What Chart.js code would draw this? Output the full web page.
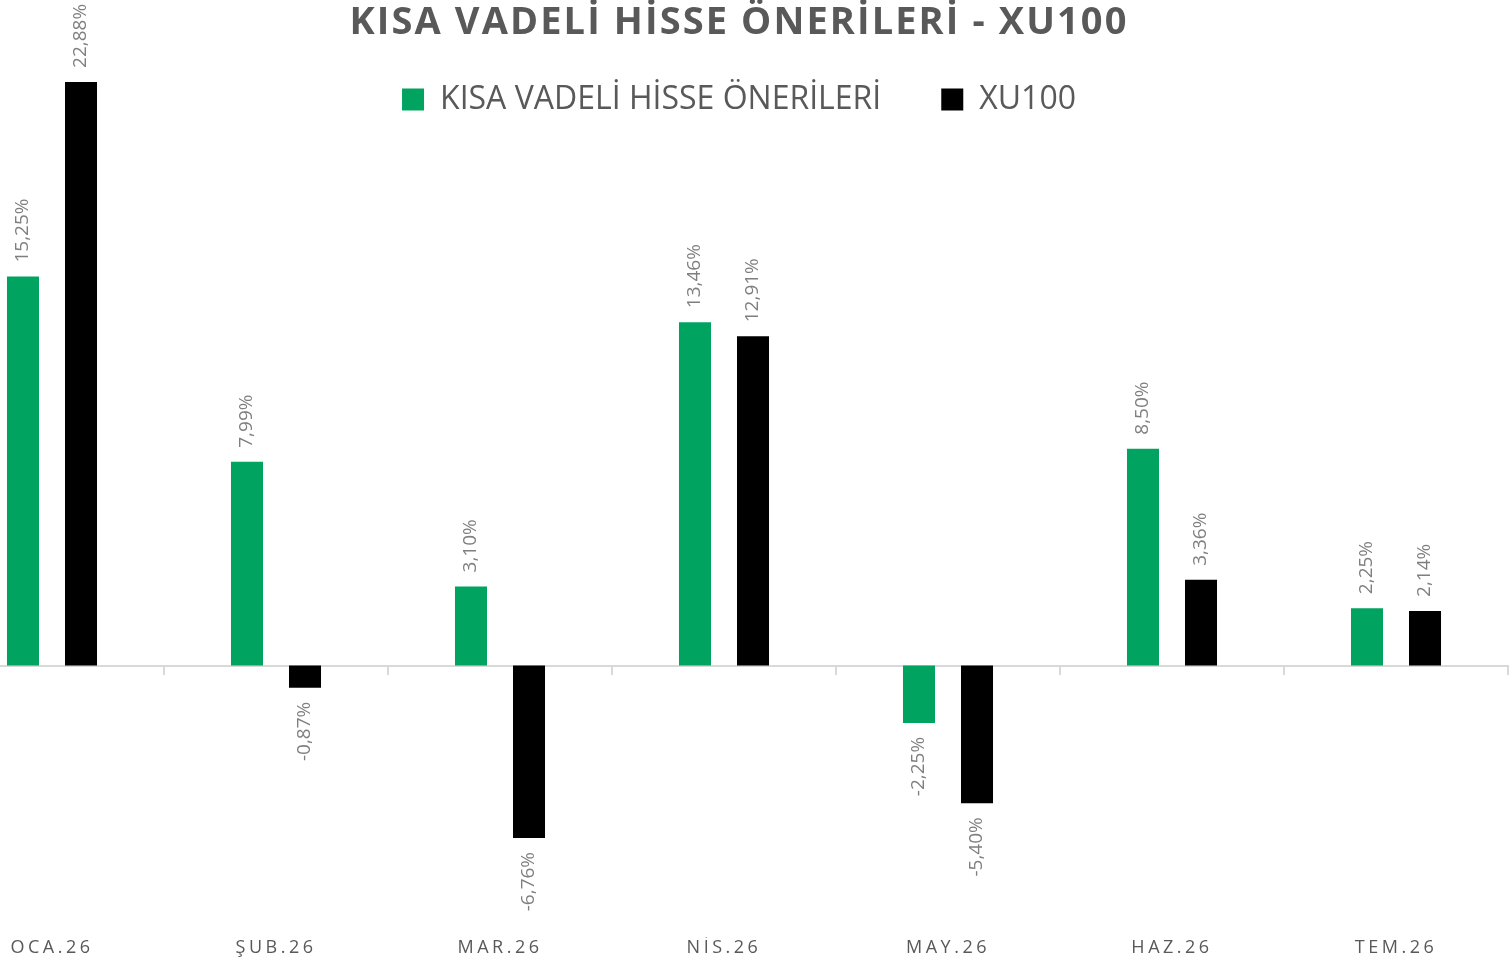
<!DOCTYPE html>
<html><head><meta charset="utf-8">
<script src="https://cdn.jsdelivr.net/npm/chart.js@4.4.1/dist/chart.umd.min.js"></script>
<style>
html,body{margin:0;padding:0;background:#fff;overflow:hidden;width:1511px;height:963px;}
#wrap{position:absolute;left:-60px;top:0;width:1598px;height:963px;}
</style></head><body>
<div id="wrap"><canvas id="c" width="1598" height="963"></canvas></div>
<script>
const categories = ['OCA.26','ŞUB.26','MAR.26','NİS.26','MAY.26','HAZ.26','TEM.26'];
const seriesNames = ['KISA VADELİ HİSSE ÖNERİLERİ','XU100'];
const kisaVadeli = [15.25, 7.99, 3.10, 13.46, -2.25, 8.50, 2.25];
const xu100 = [22.88, -0.87, -6.76, 12.91, -5.40, 3.36, 2.14];
const chartTitle = 'KISA VADELİ HİSSE ÖNERİLERİ - XU100';

const spacingPlugin = {
  id: 'spacing',
  beforeDraw(chart) {
    const tb = chart.titleBlock;
    if (tb && !tb._ls) {
      const orig = tb.draw;
      tb.draw = function(...a){ const ctx=this.ctx; ctx.save(); ctx.letterSpacing='2.1px'; orig.apply(this,a); ctx.restore(); };
      tb._ls = true;
    }
    const xs = chart.scales.x;
    if (xs && !xs._ls) {
      const orig = xs.drawLabels;
      xs.drawLabels = function(...a){ const ctx=this.ctx; ctx.save(); ctx.letterSpacing='3.5px'; orig.apply(this,a); ctx.restore(); };
      xs._ls = true;
    }
  }
};

const valueLabels = {
  id: 'valueLabels',
  afterDatasetsDraw(chart) {
    const ctx = chart.ctx;
    ctx.save();
    ctx.font = '19px "Open Sans"';
    ctx.fillStyle = '#7f7f7f';
    ctx.textBaseline = 'middle';
    chart.data.datasets.forEach((ds, di) => {
      const meta = chart.getDatasetMeta(di);
      meta.data.forEach((bar, i) => {
        const v = ds.data[i];
        const top = Math.min(bar.y, bar.base), bottom = Math.max(bar.y, bar.base);
        const txt = v.toFixed(2).replace('.', ',') + '%';
        ctx.save();
        if (v >= 0) { ctx.translate(bar.x, top - 14); ctx.textAlign = 'left'; }
        else { ctx.translate(bar.x, bottom + 14); ctx.textAlign = 'right'; }
        ctx.rotate(-Math.PI / 2);
        ctx.fillText(txt, 0, 0);
        ctx.restore();
      });
    });
    ctx.restore();
  }
};

new Chart(document.getElementById('c'), {
  type: 'bar',
  data: {
    labels: categories,
    datasets: [
      {label: seriesNames[0], data: kisaVadeli, backgroundColor: '#00A360', categoryPercentage: 0.518, barPercentage: 0.552, clip: false},
      {label: seriesNames[1], data: xu100, backgroundColor: '#000000', categoryPercentage: 0.518, barPercentage: 0.552, clip: false}
    ]
  },
  options: {
    responsive: false, animation: false, devicePixelRatio: 1,
    layout: {padding: {left: 0, right: 0, top: 0, bottom: 4}},
    plugins: {
      title: {display: true, text: chartTitle, color: '#595959', font: {family: '"Open Sans"', size: 38, weight: 'bold'}, padding: {top: 0, bottom: -22}},
      legend: {display: true, labels: {color: '#595959', font: {family: '"Open Sans"', size: 32}, boxWidth: 22, boxHeight: 22, padding: 60}},
      tooltip: {enabled: false}
    },
    scales: {
      x: {position: 'bottom', grid: {display: false, drawTicks: false}, border: {display: false},
          ticks: {color: '#595959', font: {family: '"Open Sans"', size: 18}, padding: 0, maxRotation: 0, autoSkip: false}},
      x0: {type: 'category', position: {y: 0}, offset: true,
           grid: {offset: true, drawOnChartArea: false, drawTicks: true, tickLength: 8, color: '#d9d9d9', lineWidth: 2},
           border: {display: true, color: '#d9d9d9', width: 2}, ticks: {display: false}},
      y: {position: 'right', display: true, min: -10.66, max: 21.17,
          ticks: {display: false}, grid: {display: false, drawTicks: false}, border: {display: false},
          afterFit(scale) { scale.width = 30; }}
    }
  },
  plugins: [spacingPlugin, valueLabels]
});
</script>
</body></html>
